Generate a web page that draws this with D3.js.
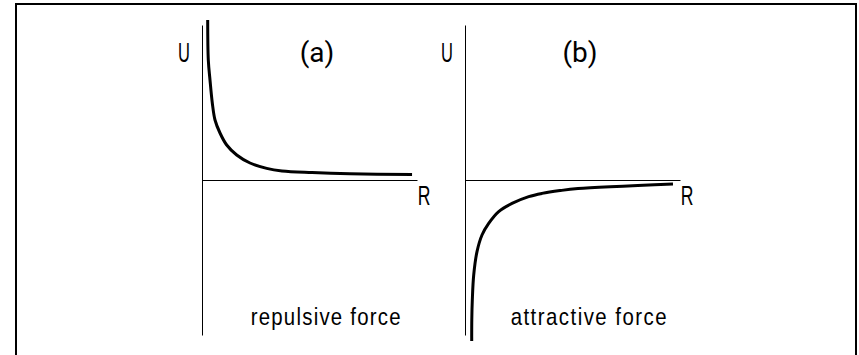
<!DOCTYPE html>
<html>
<head>
<meta charset="utf-8">
<script src="https://cdn.jsdelivr.net/npm/d3@7"></script>
<style>
  html, body { margin: 0; padding: 0; background: #fff; }
  svg { display: block; }
  .axis path { stroke: #000; stroke-width: 1; }
  .curve { fill: none; stroke: #000; stroke-width: 3; stroke-linecap: butt; }
  .cond { font-family: "Liberation Sans", Arial, sans-serif; fill: #000; }
  .panel { font-family: Roboto, "Open Sans", sans-serif; font-size: 28px; fill: #000; }
</style>
</head>
<body>
<div id="chart"></div>
<script>
// values (R, U in arbitrary units, U=0 on the R axis)
var repulsiveR = [0.265, 0.293, 0.372, 0.479, 0.605, 0.837, 1.149, 1.614, 2.233, 3.009, 3.72, 5.12, 6.88, 9.77];
var repulsiveU = [8.0, 6.0, 5.0, 3.85, 3.0, 2.35, 1.75, 1.25, 0.85, 0.58, 0.45, 0.37, 0.31, 0.275];

var attractiveR = [0.312, 0.316, 0.340, 0.405, 0.558, 0.791, 1.102, 1.567, 2.186, 2.963, 3.581, 4.419, 5.256, 9.674];
var attractiveU = [-8.05, -7.0, -6.0, -4.75, -3.58, -2.75, -2.17, -1.58, -1.17, -0.83, -0.67, -0.53, -0.43, -0.2];

var panelLabels = ["(a)", "(b)"];
var captions = ["repulsive force", "attractive force"];
var axisLabels = ["U", "R"];

var width = 859, height = 355;

var svg = d3.select("#chart").append("svg")
    .attr("width", width)
    .attr("height", height);

// frame, open at the bottom
svg.append("path")
    .attr("d", "M16," + (height + 5) + "V4H856V" + (height + 5))
    .attr("fill", "none")
    .attr("stroke", "#000")
    .attr("stroke-width", 2);

// narrow text: squeeze the glyphs horizontally
function condText(cx, by, size, sx, str, len) {
    var t = svg.append("text")
        .attr("class", "cond")
        .attr("transform", "translate(" + cx + "," + by + ") scale(" + sx + ",1)")
        .style("font-size", size + "px")
        .text(str);
    if (len) {
        t.attr("x", -len / sx / 2)
         .attr("textLength", len / sx)
         .attr("lengthAdjust", "spacing");
    } else {
        t.attr("text-anchor", "middle");
    }
    return t;
}

var panels = [
    { left: 202, r: repulsiveR, u: repulsiveU, captionWidth: 150 },
    { left: 465, r: attractiveR, u: attractiveU, captionWidth: 156 }
];

panels.forEach(function(p, i) {
    var x = d3.scaleLinear().domain([0, 10]).range([p.left, p.left + 215]);
    var y = d3.scaleLinear().domain([-7.75, 7.75]).range([335, 25]);

    var xAxis = d3.axisBottom(x).tickValues([]).tickSizeOuter(0);
    var yAxis = d3.axisLeft(y).tickValues([]).tickSizeOuter(0);

    svg.append("g")
        .attr("class", "axis")
        .attr("transform", "translate(0," + y(0) + ")")
        .call(xAxis);

    svg.append("g")
        .attr("class", "axis")
        .attr("transform", "translate(" + x(0) + ",0)")
        .call(yAxis);

    var pts = p.r.map(function(d, j) { return [d, p.u[j]]; });

    var line = d3.line()
        .x(function(d) { return x(d[0]); })
        .y(function(d) { return y(d[1]); })
        .curve(d3.curveCatmullRom.alpha(0.5));

    svg.append("path")
        .datum(pts)
        .attr("class", "curve")
        .attr("d", line);

    condText(x(0) - 18, 62, 27.5, 0.6, axisLabels[0]);
    condText(x(10) + 7, 205, 27.5, 0.64, axisLabels[1]);

    svg.append("text")
        .attr("class", "panel")
        .attr("x", x(5.35))
        .attr("y", 62)
        .attr("text-anchor", "middle")
        .text(panelLabels[i]);

    condText(x(5.75), 325, 24, 0.85, captions[i], p.captionWidth);
});
</script>
</body>
</html>
